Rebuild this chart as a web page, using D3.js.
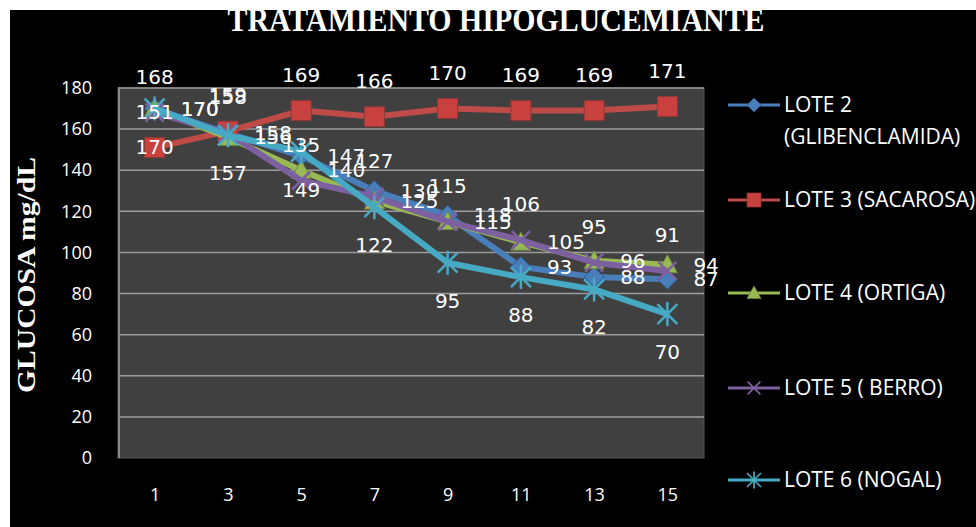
<!DOCTYPE html>
<html>
<head>
<meta charset="utf-8">
<script src="https://cdn.jsdelivr.net/npm/d3@7"></script>
<style>
  html, body { margin: 0; padding: 0; background: #fff; }
  svg { display: block; }
</style>
</head>
<body>
<div id="chart"></div>
<script>
// day labels on the x axis
var dias = ["1", "3", "5", "7", "9", "11", "13", "15"];
var yTicks = [0, 20, 40, 60, 80, 100, 120, 140, 160, 180];

var lote2 = [170, 158, 147, 130, 118, 93, 88, 87];
var lote3 = [151, 159, 169, 166, 170, 169, 169, 171];
var lote4 = [170, 156, 140, 125, 115, 105, 96, 94];
var lote5 = [168, 158, 135, 127, 115, 106, 95, 91];
var lote6 = [170, 157, 149, 122, 95, 88, 82, 70];

var nombres = ["LOTE 2\n(GLIBENCLAMIDA)", "LOTE 3 (SACAROSA)", "LOTE 4 (ORTIGA)", "LOTE 5 ( BERRO)", "LOTE 6 (NOGAL)"];

var series = [
    {name: nombres[0], values: lote2, color: "#4a7ebb", marker: "diamond", label: "right"},
    {name: nombres[1], values: lote3, color: "#be4b48", marker: "square", label: "above"},
    {name: nombres[2], values: lote4, color: "#98b954", marker: "triangle", label: "right"},
    {name: nombres[3], values: lote5, color: "#7d60a0", marker: "x", label: "above"},
    {name: nombres[4], values: lote6, color: "#46aac5", marker: "star", label: "below"}
];

var W = 976, H = 527;
var svg = d3.select("#chart").append("svg")
    .attr("width", W).attr("height", H);

// black chart area, white strip on top / left like the original crop
svg.append("rect").attr("x", 10).attr("y", 10).attr("width", W - 10).attr("height", H - 10)
    .attr("fill", "#000");

var plot = {left: 118, top: 88, right: 704, bottom: 458};

var x = d3.scalePoint().domain(dias).range([plot.left, plot.right]).padding(0.5);
var y = d3.scaleLinear().domain([0, 180]).range([plot.bottom, plot.top]);

svg.append("rect")
    .attr("x", plot.left).attr("y", plot.top)
    .attr("width", plot.right - plot.left).attr("height", plot.bottom - plot.top)
    .attr("fill", "#404040").attr("stroke", "#555").attr("stroke-width", 1);

// gridlines
svg.append("g")
    .selectAll("line")
    .data(yTicks.filter(function(d) { return d > 0; }))
    .enter().append("line")
    .attr("x1", plot.left).attr("x2", plot.right)
    .attr("y1", function(d) { return y(d); })
    .attr("y2", function(d) { return y(d); })
    .attr("stroke", "#9c9c9c").attr("stroke-width", 1.5);

svg.append("line")
    .attr("x1", plot.left + 1).attr("x2", plot.left + 1)
    .attr("y1", plot.top).attr("y2", plot.bottom)
    .attr("stroke", "#8a8a8a").attr("stroke-width", 2);

// axes
var yAxis = d3.axisLeft(y).tickValues(yTicks).tickSize(0).tickPadding(26);
var gy = svg.append("g").attr("transform", "translate(" + plot.left + ",0)").call(yAxis);
var xAxis = d3.axisBottom(x).tickSize(0).tickPadding(30);
var gx = svg.append("g").attr("transform", "translate(0," + plot.bottom + ")").call(xAxis);
[gx, gy].forEach(function(g) {
    g.select(".domain").remove();
    g.selectAll("text")
        .attr("fill", "#fff")
        .style("font-family", "'Open Sans', sans-serif")
        .style("font-size", "18px");
});

// titles
svg.append("text")
    .attr("x", 496).attr("y", 31)
    .attr("text-anchor", "middle")
    .attr("textLength", 537).attr("lengthAdjust", "spacingAndGlyphs")
    .attr("fill", "#fff")
    .style("font-family", "'Liberation Serif', serif")
    .style("font-weight", "bold")
    .style("font-size", "34px")
    .text("TRATAMIENTO HIPOGLUCEMIANTE");

svg.append("text")
    .attr("transform", "translate(35,275) rotate(-90)")
    .attr("text-anchor", "middle")
    .attr("textLength", 236).attr("lengthAdjust", "spacingAndGlyphs")
    .attr("fill", "#fff")
    .style("font-family", "'Liberation Serif', serif")
    .style("font-weight", "bold")
    .style("font-size", "25px")
    .text("GLUCOSA  mg/dL");

function drawMarker(g, type, color) {
    if (type === "diamond") {
        g.append("path").attr("d", "M0,-10L10,0L0,10L-10,0Z")
            .attr("fill", color).attr("stroke", "#2c5d98").attr("stroke-width", 1);
    } else if (type === "square") {
        g.append("rect").attr("x", -10).attr("y", -10).attr("width", 20).attr("height", 20)
            .attr("fill", "#c9413f").attr("stroke", "#8c3836").attr("stroke-width", 1);
    } else if (type === "triangle") {
        g.append("path").attr("d", "M0,-10L10,8L-10,8Z")
            .attr("fill", color).attr("stroke", "#71893f").attr("stroke-width", 1);
    } else if (type === "x") {
        g.append("path").attr("d", "M-9,-9L9,9M-9,9L9,-9")
            .attr("stroke", color).attr("stroke-width", 2.5);
    } else {
        g.append("path").attr("d", "M-10,-10L10,10M-10,10L10,-10M0,-12L0,12")
            .attr("stroke", color).attr("stroke-width", 2.5);
    }
}

var line = d3.line()
    .x(function(d, i) { return x(dias[i]); })
    .y(function(d) { return y(d); });

series.forEach(function(s) {
    var g = svg.append("g");
    g.append("path").datum(s.values)
        .attr("d", line)
        .attr("fill", "none")
        .attr("stroke", s.color)
        .attr("stroke-width", 6)
        .attr("stroke-linejoin", "round");
    s.values.forEach(function(v, i) {
        var m = g.append("g").attr("transform", "translate(" + x(dias[i]) + "," + y(v) + ")");
        drawMarker(m, s.marker, s.color);
    });
});

// data labels on top of every series
series.forEach(function(s) {
    svg.append("g").selectAll("text")
        .data(s.values)
        .enter().append("text")
        .attr("x", function(d, i) { return x(dias[i]) + (s.label === "right" ? 26 : 0); })
        .attr("y", function(d) {
            if (s.label === "above") return y(d) - 36;
            if (s.label === "below") return y(d) + 38;
            return y(d);
        })
        .attr("text-anchor", s.label === "right" ? "start" : "middle")
        .attr("dominant-baseline", "central")
        .attr("fill", "#fff")
        .style("font-family", "'DejaVu Sans', sans-serif")
        .style("font-size", "20px")
        .text(function(d) { return d; });
});

// legend
var legY = [105, 200, 293, 388, 480];
series.forEach(function(s, i) {
    var g = svg.append("g").attr("transform", "translate(0," + legY[i] + ")");
    g.append("line").attr("x1", 728).attr("x2", 780)
        .attr("stroke", s.color).attr("stroke-width", 3);
    var m = g.append("g").attr("transform", "translate(754,0) scale(0.7)");
    drawMarker(m, s.marker, s.color);
    var t = g.append("text").attr("x", 784).attr("y", 0)
        .attr("fill", "#fff")
        .style("font-family", "'Open Sans', sans-serif")
        .style("font-size", "21px");
    s.name.split("\n").forEach(function(part, k) {
        t.append("tspan").attr("x", 784).attr("dy", k === 0 ? "0.35em" : "1.5em").text(part);
    });
});
</script>
</body>
</html>
